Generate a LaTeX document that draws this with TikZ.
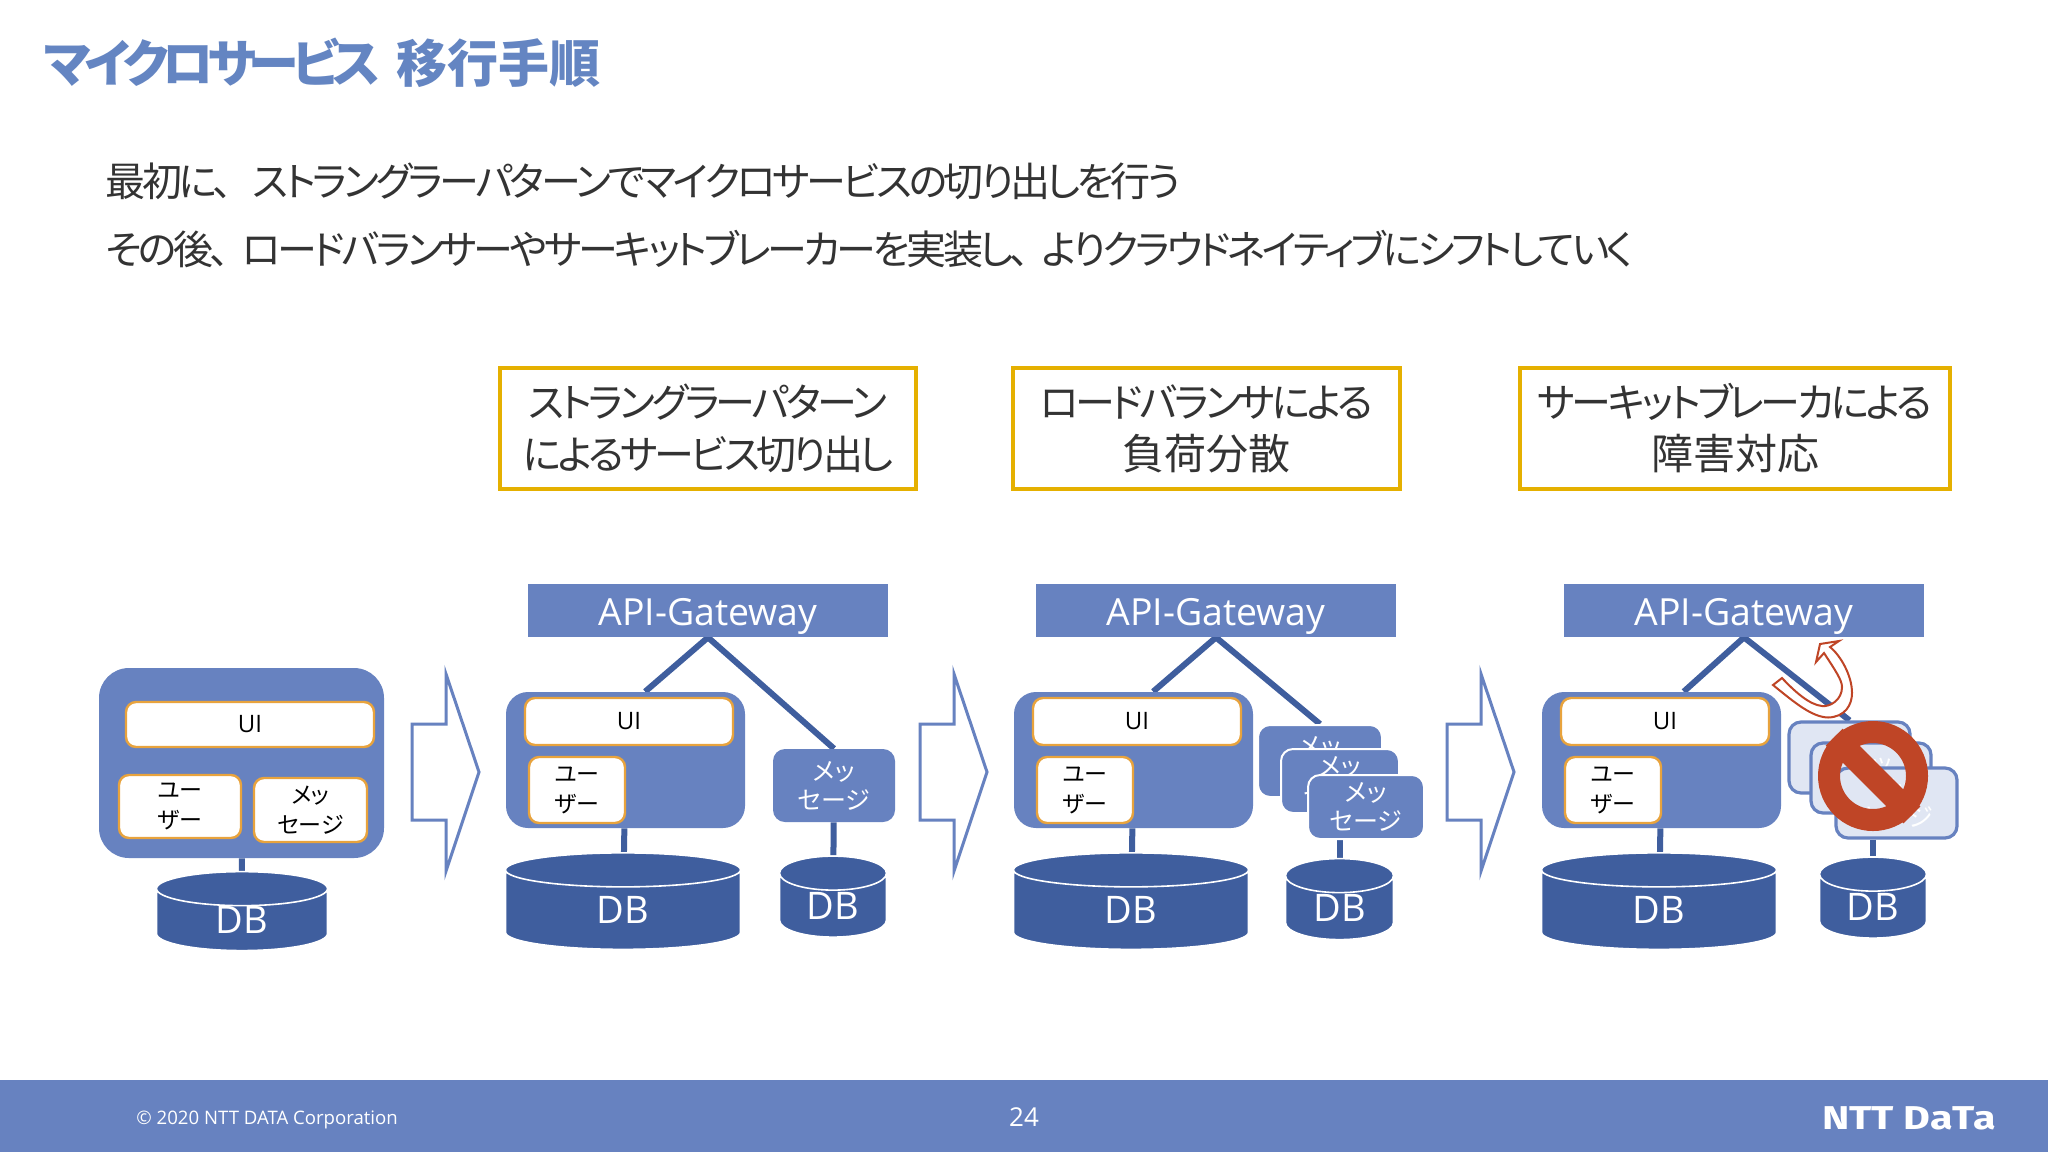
\documentclass[tikz,border=0pt]{standalone}
\usepackage{fontspec}
\setmainfont{Noto Sans CJK JP}[RawFeature=+palt]
\newfontfamily\tightfont{Noto Sans CJK JP}[RawFeature=+palt, LetterSpace=-8.5]
\newfontfamily\titlekana{Noto Sans CJK JP}[RawFeature=+palt, LetterSpace=-13]
\newfontfamily\latinfont{Open Sans}
\newfontfamily\logofont{Fira Sans}[BoldFont={Fira Sans Bold}, FakeStretch=1.25]
\usetikzlibrary{positioning, shapes.geometric, backgrounds, calc}

\definecolor{mainblue}{HTML}{6782C0}
\definecolor{dbblue}{HTML}{3F5E9E}
\definecolor{titleblue}{HTML}{6485C2}
\definecolor{boxorange}{HTML}{E8A33D}
\definecolor{labelgold}{HTML}{E5B000}
\definecolor{stopred}{HTML}{BF4526}
\definecolor{offblue}{HTML}{E0E6F3}
\definecolor{bodygrey}{HTML}{333333}

\begin{document}
\begin{tikzpicture}[
  x=0.5pt, y=-0.5pt,
  core/.style={fill=mainblue, rounded corners=#1, inner sep=0pt},
  part/.style={draw=boxorange, line width=1.2pt, fill=white, rounded corners=5pt, inner sep=0pt,
               align=center, text=black, font=\fontsize{11.5}{15}\selectfont},
  uipart/.style={part, font=\latinfont\fontsize{12}{14}\selectfont},
  msgbox/.style={fill=mainblue, rounded corners=6pt, inner sep=0pt, align=center, text=white,
                 font=\fontsize{12.5}{14.5}\selectfont},
  msgstack/.style={msgbox, draw=white, line width=1pt},
  msgoff/.style={msgbox, draw=mainblue, line width=1.6pt, fill=offblue},
  gateway/.style={fill=mainblue, inner sep=0pt, minimum width=180pt, minimum height=26.5pt,
                  text height=14.5pt, text depth=0pt,
                  text=white, font=\latinfont\fontsize{18.7}{20}\selectfont},
  dbcyl/.style={cylinder, shape border rotate=90, aspect=0.65, draw=white, line width=0.8pt, fill=dbblue,
                inner sep=0pt, text=white, font=\latinfont\fontsize{19}{20}\selectfont},
  stagelabel/.style={draw=labelgold, line width=1.8pt, fill=white, inner sep=0pt, align=center,
                     minimum height=60.5pt, text=bodygrey, font=\tightfont\fontsize{20}{26}\selectfont},
  link/.style={draw=dbblue, line width=3pt},
  shiftarr/.style={draw=mainblue, line width=1.5pt, fill=white, line join=miter}
]
\useasboundingbox (0,0) rectangle (2048,1152);

% title and lead text
\node[anchor=west, inner sep=0pt, text=titleblue, font=\fontsize{25.5}{28}\selectfont\bfseries] (title) at (44,63) {{\titlekana マイクロサービス}\hspace{8pt}移行手順};
\node[anchor=west, inner sep=0pt, text=bodygrey, font=\tightfont\fontsize{20}{26}\selectfont] (lead1) at (105,181) {最初に、\hspace{10pt}ストラングラーパターンでマイクロサービスの切り出しを行う};
\node[anchor=west, inner sep=0pt, text=bodygrey, font=\tightfont\fontsize{20}{26}\selectfont] (lead2) at (105,249) {その後、\hspace{6pt}ロードバランサーやサーキットブレーカーを実装し、\hspace{6pt}よりクラウドネイティブにシフトしていく};

% stage labels
\node[stagelabel, minimum width=208pt] (label1) at (708,428.5) {ストラングラーパターン\\によるサービス切り出し};
\node[stagelabel, minimum width=193.5pt] (label2) at (1206.5,428.5) {ロードバランサによる\\{\rmfamily\fontsize{21}{26}\selectfont 負荷分散}};
\node[stagelabel, minimum width=215pt] (label3) at (1735,428.5) {サーキットブレーカによる\\{\rmfamily\fontsize{21}{26}\selectfont 障害対応}};

% monolith
\node[core=15pt, minimum width=142.5pt, minimum height=95pt] (core1) at (241.5,763) {};
\node[uipart, minimum width=124pt, minimum height=22.5pt] (ui1) at (250,724.5) {UI};
\node[part, minimum width=61pt, minimum height=31.5pt] (user1) at (180,806.5) {ユー\\ザー};
\node[part, minimum width=56.5pt, minimum height=32pt] (msg1) at (310.5,810) {メッ\\セージ};
\node[dbcyl, minimum width=85.5pt, minimum height=38.75pt] (db1) at (242,920) {DB};

% the three later stages share this part
\foreach \n/\dx in {2/0, 3/508, 4/1036} {
  \begin{scope}[shift={(\dx,0)}]
    \node[gateway] (gw\n) at (708,610.5) {API-Gateway};
    \node[core=11pt, minimum width=119.5pt, minimum height=68pt] (core\n) at (625.5,760) {};
    \node[uipart, minimum width=104pt, minimum height=23.5pt] (ui\n) at (629,721.5) {UI};
    \node[part, minimum width=48pt, minimum height=33pt] (user\n) at (577,790) {ユー\\ザー};
    \node[dbcyl, minimum width=117.5pt, minimum height=48.25pt] (bigdb\n) at (623,910) {DB};
  \end{scope}
}

% message service of each stage
\node[msgbox, minimum width=61pt, minimum height=36.5pt] (msg2) at (834,785.5) {メッ\\セージ};
\node[dbcyl, minimum width=53.5pt, minimum height=40.5pt] (db2) at (833,905.5) {DB};

\node[msgstack, minimum width=62pt, minimum height=36pt] (msg3a) at (1320,761) {メッ\\セージ};
\node[msgstack, minimum width=59pt, minimum height=32pt] (msg3b) at (1340,781) {メッ\\セージ};
\node[msgstack, minimum width=58pt, minimum height=32pt] (msg3c) at (1366,807) {メッ\\セージ};
\node[dbcyl, minimum width=54pt, minimum height=40.5pt] (db3) at (1339.5,908) {DB};

\node[msgoff, minimum width=60.5pt, minimum height=35.5pt] (msg4a) at (1849.5,757.5) {メッ\\セージ};
\node[msgoff, minimum width=60pt, minimum height=35pt] (msg4b) at (1871,778) {メッ\\セージ};
\node[msgoff, minimum width=60.5pt, minimum height=35pt] (msg4c) at (1896.5,803) {メッ\\セージ};
\node[dbcyl, minimum width=53.5pt, minimum height=40.5pt] (db4) at (1873,906.5) {DB};

% connectors stay behind the boxes
\begin{scope}[on background layer]
  \fill[white] (0,0) rectangle (2048,1152);
  \draw[link] (core1) -- (db1);
  \draw[link] (gw2.south) -- (core2.74);
  \draw[link] (gw2.south) -- (msg2.north);
  \draw[link] (core2) -- (bigdb2);
  \draw[link] (msg2) -- (db2);
  \draw[link] (gw3.south) -- (core3.74);
  \draw[link] (gw3.south) -- (msg3a.north);
  \draw[link] (core3) -- (bigdb3);
  \draw[link] (msg3c.south -| db3.north) -- (db3.north);
  \draw[link] (gw4.south) -- (core4.72);
  \draw[link] (gw4.south) -- (msg4a.north);
  \draw[link] (core4) -- (bigdb4);
  \draw[link] (msg4c.south -| db4.north) -- (db4.north);
\end{scope}

% shift arrows
\foreach \dx in {0, 508, 1035} {
  \draw[shiftarr, shift={(\dx,0)}] (412,724) -- (446,724) -- (446,674) -- (479,772) -- (446,871) -- (446,820) -- (412,820) -- cycle;
}

% failure marks
\draw[draw=stopred, line width=1pt, fill=white, line join=miter]
  (1773,685) .. controls (1795,703) and (1812,717) .. (1828,717.5)
  .. controls (1845,717) and (1852,705) .. (1852,693)
  .. controls (1852,675) and (1840,655) .. (1830,647)
  -- (1839,641) -- (1820,644) -- (1816,662) -- (1824,653)
  .. controls (1835,670) and (1842,680) .. (1842,687)
  .. controls (1842,700) and (1830,707) .. (1822,706)
  .. controls (1810,705) and (1795,692) .. (1782,678) -- cycle;
\node[circle, draw=stopred, line width=11pt, minimum size=44pt, inner sep=0pt] (nosign) at (1873,776) {};
\draw[draw=stopred, line width=12pt] (nosign.135) -- (nosign.-45);

% footer
\fill[mainblue] (0,1080) rectangle (2048,1152);
\node[anchor=west, inner sep=0pt, text=white, font=\latinfont\fontsize{9.3}{11}\selectfont] (copyright) at (136,1120) {© 2020 NTT DATA Corporation};
\node[inner sep=0pt, text=white, font=\latinfont\fontsize{13}{15}\selectfont] (page) at (1024,1117) {24};
\node[anchor=east, inner sep=0pt, text=white, font=\logofont\bfseries\fontsize{16.5}{19}\selectfont] (logo) at (1996,1118) {NTT DaTa};
\end{tikzpicture}
\end{document}
